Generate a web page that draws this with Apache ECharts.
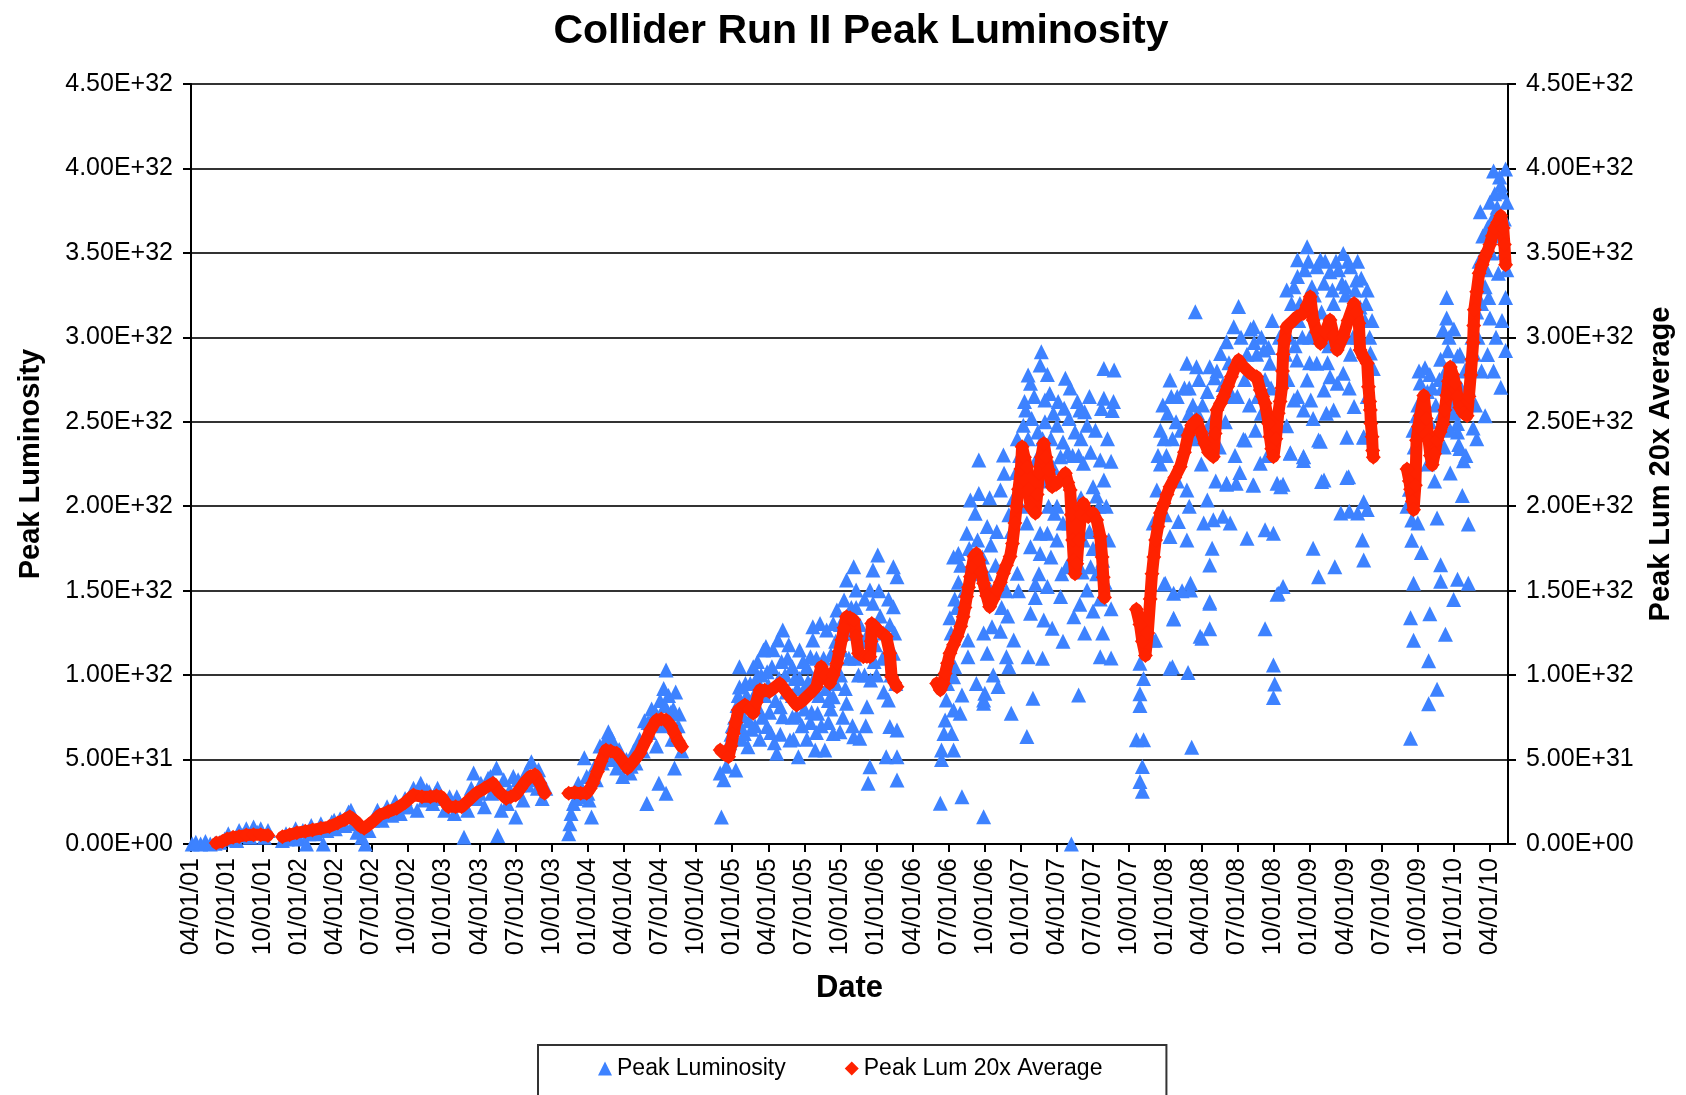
<!DOCTYPE html>
<html>
<head>
<meta charset="utf-8">
<script src="https://cdn.jsdelivr.net/npm/echarts@6/dist/echarts.min.js"></script>
<style>
html,body{margin:0;padding:0;background:#fff;}
#chart{width:1686px;height:1095px;}
</style>
</head>
<body>
<div id="chart"></div>
<script>
/* x = months since 04/01/01, y = luminosity in units of 1E30 */
var tickLabels = ['04/01/01','07/01/01','10/01/01','01/01/02','04/01/02','07/01/02','10/01/02',
    '01/01/03','04/01/03','07/01/03','10/01/03','01/01/04','04/01/04','07/01/04','10/01/04',
    '01/01/05','04/01/05','07/01/05','10/01/05','01/01/06','04/01/06','07/01/06','10/01/06',
    '01/01/07','04/01/07','07/01/07','10/01/07','01/01/08','04/01/08','07/01/08','10/01/08',
    '01/01/09','04/01/09','07/01/09','10/01/09','01/01/10','04/01/10'];

// Peak Luminosity (blue triangles)
var peak2001 = [[0.1,0],[0.4,1],[0.8,0],[1.2,1.5],[1.6,0],[2.0,0.5],[2.4,1],[2.8,3],[3.1,6],[3.4,3],[3.8,2],
    [4.0,8],[4.3,5],[4.6,9],[4.9,4],[5.2,10],[5.5,7],[5.8,9],[6.1,4],[6.4,8]];
var peak2002 = [[7.6,2],[7.9,6],[8.3,4],[8.7,9],[9.0,3],[9.3,8],[9.6,0],[10.0,11],[10.4,6],[10.8,12],[11.0,0],
    [11.3,8],[11.7,13],[12.0,9],[12.4,15],[12.8,11],[13.1,19],[13.5,12],[13.8,7],[14.2,4],[14.5,0],[14.8,8],
    [15.1,14],[15.5,20],[15.9,14],[16.3,22],[16.7,17],[17.0,25],[17.4,18],[17.8,27],[18.1,22],[18.5,33],
    [18.8,20],[19.1,36],[19.4,26],[19.8,31],[20.1,24],[20.5,33],[20.8,27],[21.1,20],[21.5,28],[21.9,18],
    [22.3,25],[22.7,4],[23.0,20],[23.3,33],[23.5,42],[23.8,27],[24.1,36],[24.4,22],[24.7,39],[25.0,30],
    [25.4,45],[25.5,5],[25.8,20],[26.0,38],[26.3,24],[26.8,40],[27.0,16],[27.3,35],[27.6,26],[27.9,43],
    [28.3,48.7],[28.6,38],[28.9,44],[29.2,27],[29.5,33],
    [8.0,3],[9.8,6],[11.9,14],[13.3,20],[16.0,18],[17.6,22],[19.6,32],[20.3,30],[21.7,24],[22.1,28],
    [24.0,30],[24.9,40],[26.5,32],[27.2,38],[28.0,35],[28.8,33],[29.0,40]];
var peak2004 = [[31.4,6],[31.5,12],[31.6,18],[31.8,24],[32.0,27],[32.2,36],[32.5,33],[32.7,51],[32.9,40],
    [33.1,26],[33.3,16],[33.5,45],[33.7,38],[34.0,58],[34.2,48],[34.5,62],[34.7,66.5],[34.9,50],[35.1,58],
    [35.4,45],[35.6,56],[35.9,40],[36.2,50],[36.5,42],[36.8,55],[37.0,48],[37.3,62],[37.6,55],[37.7,73],
    [37.9,24],[38.1,66],[38.3,80],[38.5,73],[38.7,58],[38.9,36],[39.0,85],[39.2,70],[39.3,92],[39.5,103],
    [39.5,30],[39.7,88],[39.9,78],[40.0,62],[40.2,45],[40.3,90],[40.5,70],[40.6,77],[40.8,55],
    [32.3,28],[33.0,30],[34.3,52],[35.0,62],[35.8,52],[36.6,46],[37.1,58],[38.0,72],[38.6,78],[39.4,82],
    [40.1,80],[40.4,62]];
var peak2005 = [[44.0,42],[44.1,16],[44.3,38],[44.5,46],[44.8,60],[45.0,70],[45.3,43.8],[45.5,88],[45.6,93],
    [45.6,105],[45.8,62],[46.0,65.5],[46.3,57.6],[46.5,95],[46.75,105],[46.9,70],[47.2,80],[47.4,100],
    [47.6,114.9],[47.8,117],[47.9,69.5],[48.1,78],[48.3,105],[48.5,60],[48.7,53.7],[48.8,120.8],[49.0,81.3],
    [49.2,126.7],[49.2,75.4],[49.4,100],[49.6,110],[49.8,61.6],[50.0,75],[50.2,98],[50.35,76],[50.5,51.7],
    [50.6,114.9],[50.8,70],[51.0,92],[51.2,105],[51.5,110.9],[51.5,72],[51.7,120.8],[51.7,128.7],[51.9,55.6],
    [52.1,77.4],[52.3,130.6],[52.5,100],[52.7,55.6],[52.85,126.7],[53.0,85],[53.2,112],[53.4,130.6],
    [53.4,65.5],[53.4,87.2],[53.7,138.5],[53.96,66.5],[54.1,115],[54.3,144.5],[54.5,156.3],[54.5,83.3],
    [54.8,125],[55.1,164.2],[55.1,63.5],[55.3,150.4],[55.3,140],[55.6,62.6],[55.8,120],[56.0,100],[56.2,81.3],
    [56.3,35.9],[56.45,150.4],[56.45,45.8],[56.5,97.1],[56.7,162.2],[56.7,142.5],[56.9,118],[57.1,171.1],
    [57.3,135],[57.5,110],[57.8,51.7],[57.98,85.3],[58.1,69.5],[58.1,130],[58.4,164.2],[58.4,140.5],
    [58.4,112.9],[58.7,158.3],[58.7,67.5],[58.7,51.7],[58.7,37.9],
    [45.2,75],[46.2,88],[47.0,98],[47.7,88],[48.0,94],[48.6,85],[49.5,90],[50.0,105],[50.4,92],[51.0,80],
    [51.8,98],[52.2,88],[52.6,110],[53.0,100],[53.6,120],[54.0,100],[54.7,110],[55.0,125],[55.5,100],
    [56.0,120],[57.0,100],[57.6,90],[58.2,100],[44.6,58],[45.9,76],[46.6,68],[47.3,62],[48.2,66],[49.0,65],
    [50.1,62],[51.2,62],[52.0,66],[53.0,72],[54.2,75],[55.0,70],[56.1,70],
    [44.9,65],[45.4,82],[45.7,70],[46.1,95],[46.4,73],[46.8,88],[47.1,108],[47.5,75],[47.9,102],[48.4,115],
    [48.9,98],[49.1,108],[49.7,118],[50.0,88],[50.6,98],[50.9,108],[51.3,96],[51.6,78],[52.0,110],[52.4,70],
    [52.8,92],[53.2,80],[53.6,95],[54.0,130],[54.4,92],[54.9,140],[55.2,110],[55.6,130],[56.0,145],[56.3,125],
    [56.8,108],[57.2,150],[57.6,125],[58.0,145],[58.5,125],[58.6,95]];
var peak2006 = [[62.3,24.1],[64.1,28],[65.9,16.2],[73.2,0],[62.4,50],[62.4,55.6],[63.4,55.6],[62.6,65.5],
    [63.25,65.5],[62.7,73.4],[63.95,77.4],[63.4,79.3],[64.1,88.2],[62.8,85.3],[65.3,95.1],[65.9,83.3],
    [65.9,85.3],[66.0,89.2],[67.1,93.2],[66.7,100.1],[68.2,77.4],[69.5,63.6],[70.0,86.3],[73.8,88.2],
    [75.6,110.9],[69.6,110.9],[66.2,112.9],[67.8,110.9],[68.0,105],[68.4,120.8],[64.6,120.8],[64.6,110.9],
    [65.9,125],[66.6,128.7],[67.3,126],[69.8,136.6],[70.9,132.6],[71.6,127.7],[70.2,146],[70.2,154],
    [71.2,152.4],[72.3,146.5],[73.4,134.6],[73.9,142],[74.5,150.4],[75.0,138],[75.6,145],[72.8,164.2],
    [74.8,164.2],[70.6,172],[68.7,160.3],[63.1,134],[63.5,145],[63.8,155],[64.0,165],[63.4,170],[63.4,99],
    [63.5,105],
    [70.7,291.5],[70.6,283.6],[69.6,277.7],[69.8,272.8],[72.7,275.7],[75.9,281.6],[75.9,263.9],[75.7,257.9],
    [71.4,266.8],[71.0,262.9],[73.9,256.9],[69.4,256.9],[68.7,240],[69.2,248],[69.9,252],[70.4,244],
    [71.0,250],[71.5,240],[72.0,248],[72.5,238],[73.0,252],[73.5,244],[74.0,240],[74.5,248],[65.5,227.3],
    [67.55,230.3],[74.2,225.4],[75.6,227.3],[75.9,215.5],[75.0,211.6],[64.8,203.7],[65.5,207.6],[66.4,205],
    [67.3,209.6],[67.6,219.5],[64.5,184],[65.2,195.8],[66.2,188],[71.2,184],[71.8,195.8],[72.5,190],
    [72.0,200],[72.3,229.3],[63.8,172],[69.8,176],[70.6,184],[74.5,200],[75.3,206],[66.5,177],[67.0,185],
    [68.0,195],[68.4,205],[74.2,180],[75.0,175],[75.8,168],[76.3,180],[76.5,226.6],[76.75,280.6],[76.7,262],
    [76.6,256.7],[76.5,139.3],[76.5,110.2],[74.1,161],[73.6,172],[71.5,170],[72.4,160],[72.9,165],[71.0,215],
    [70.0,215],[73.8,230],[72.9,232],[74.8,232],[71.7,223],
    [62.9,95],[63.2,125],[63.7,140],[64.3,150],[64.7,175],[65.0,160],[65.4,180],[65.8,170],[66.1,160],
    [66.5,150],[66.9,165],[67.4,140],[67.8,150],[68.2,185],[68.6,220],[68.9,230],[69.3,262],[69.6,240],
    [70.1,265],[70.3,228],[70.8,240],[71.2,278],[71.7,255],[72.1,262],[72.6,258],[73.1,270],[73.3,230],
    [73.7,262],[74.3,256],[74.7,265],[75.2,245],[75.5,200],[76.1,200],[76.2,240],[69.0,200],[69.5,190],
    [70.5,160],[71.3,200],[72.0,180],[73.0,190],[74.0,205],[74.7,185],[75.3,160],[76.0,155],[67.9,135],
    [68.8,150],[70.8,110],[72.5,120],[74.3,125],[75.8,125]];
var peak2008 = [[78.9,37],[79.1,45.9],[79.1,31.2],[78.6,61.8],[79.2,61.8],[78.9,82],[78.9,89],[79.2,98],
    [78.9,107],[80.0,120.7],[83.2,57.3],[81.6,104.9],[82.9,101.5],[81.7,133.2],[83.9,123],[84.7,127.5],
    [84.7,143.4],[89.3,127.5],[90.0,106],[90.1,94.7],[90.0,86.7],[90.3,147.9],[90.8,152.4],[81.4,104],
    [84.05,121.8],[81.7,133.6],[84.7,142.5],[81.0,154.4],[81.7,148.4],[82.4,150],[83.1,150.4],[83.1,154.4],
    [90.4,148.4],[84.7,165.2],[84.9,175.1],[82.8,180],[81.4,182],[87.8,181],[89.3,186],[90.0,184],
    [93.3,175.1],[93.75,158.3],[95.1,164.2],[97.4,180],[97.5,168.2],[95.6,196],[96.3,197],[97.0,196],
    [97.8,198],[97.5,202.7],[84.2,190],[85.0,192],[85.8,194],[86.4,190],[84.5,203.7],[86.1,213.6],
    [86.9,213.6],[88.35,212.6],[90.6,211.6],[94.2,215.6],[96.25,217.5],[92.5,227],[88.9,225.4],[80.3,209.6],
    [82.8,209.6],[82.1,190.9],[80.2,120.8],[80.9,154],
    [92.8,353.7],[95.8,349.7],[92.0,336],[92.0,346],[93.6,341.8],[94.7,338.9],[96.4,341.8],[96.9,333.9],
    [97.8,328],[91.1,328],[94.2,332],[83.5,315.2],[87.1,318.2],[88.35,306.3],[86.1,297.4],[86.7,306.3],
    [81.4,274.7],[82.8,284.6],[83.6,282.6],[84.7,282.6],[85.6,290.5],[89.2,292.5],[89.7,284.6],[91.95,286.6],
    [93.6,284.6],[92.8,274.7],[94.2,268.8],[95.3,272.8],[95.8,278.7],[94.7,276.7],[91.7,262.9],[93.1,262.9],
    [92.5,257],[95.0,257],[96.7,259],[93.3,252],[87.65,239.2],[93.75,239.2],[91.4,231.3],[92.5,229.3],
    [97.5,241.2],[80.9,240],[81.2,255],[81.5,265],[81.9,250],[80.6,245],[83.0,270],[83.8,275],[84.5,268],
    [85.1,276],[87.8,290],[88.4,297],[89.0,300],[89.6,294],[88.0,260],[88.7,265],[89.0,255],[87.0,265],
    [86.0,250],[85.5,235],[84.0,225],[82.0,215],[83.4,240],[80.6,225],[93.0,300],[94.0,315],[95.0,320],
    [96.0,325],[97.2,318],[98.0,300],[98.06,290.7],[98.3,281.6],[96.1,240.8],[97.5,240.8],[91.1,247.6],
    [91.4,231.7],[92.5,229.5],[93.9,238.5],[87.5,239.7],[86.1,213],[87.2,220],[88.3,212.5],[90.3,213.6],
    [90.8,213],[94.0,214.7],[96.1,217],[92.4,300],[94.6,295],[96.6,300],[97.6,310],[91.5,320],[92.6,340],
    [93.2,330],[95.4,340],[96.0,330],[97.0,345],[93.9,346],[91.8,295],[89.9,310],
    [80.0,190],[80.4,230],[80.8,260],[81.1,230],[81.6,240],[82.0,265],[82.3,245],[82.6,270],[83.0,255],
    [83.3,260],[83.7,255],[84.1,260],[84.4,245],[84.8,250],[85.3,280],[85.8,272],[86.3,285],[86.6,265],
    [87.3,300],[87.6,275],[88.1,305],[88.6,290],[89.3,275],[89.8,270],[90.5,300],[91.0,290],[91.3,300],
    [91.7,330],[92.2,320],[92.9,345],[93.4,325],[94.3,345],[94.9,328],[95.2,345],[95.7,332],[96.2,345],
    [96.8,328],[97.3,335],[97.7,320],[98.2,310],[92.1,310],[93.0,285],[93.8,300],[94.5,285],[95.5,300],
    [96.4,290],[97.0,300],[97.8,265],[91.2,275],[92.0,265],[94.4,255],[96.3,270],[88.5,245],[89.5,230],
    [86.8,230],[85.2,215],[83.0,200],[81.0,195]];
var peak2010 = [[101.4,62.6],[102.9,83],[103.6,91.6],[102.9,108.5],[101.65,120.6],[101.4,133.9],[103.0,136.3],
    [104.3,124.2],[104.98,144.8],[101.65,154.4],[103.9,155.6],[105.3,156.8],[106.2,154.4],[103.9,165.3],
    [102.3,172.6],[101.5,179.8],[101.5,191.9],[103.6,193.1],[106.2,189.5],[105.7,206.4],[104.7,219.7],
    [105.8,226.9],[105.4,236.6],[107.6,253.5],[108.9,270.4],[108.3,280],[109.3,292.2],[107.8,289.8],
    [108.0,311.5],[107.9,323.6],[109.3,323.6],[108.7,338],[109.1,350.2],[107.2,374.4],[108.3,398.5],
    [109.3,399.7],[108.6,377],[109.0,386],[109.4,380],[104.4,323.6],[104.4,311.5],[104.1,304.3],[103.9,287],
    [104.5,292],[105.3,289],[102.2,273],[102.6,282],[103.0,278],[101.9,253.5],[105.3,244],[105.3,249],
    [106.6,246.3],[105.5,234.2],[101.7,235],[102.0,260],[102.5,245],[103.0,250],[103.5,260],[104.0,270],
    [104.8,260],[105.6,270],[106.2,270],[106.5,300],[106.9,315],[107.1,345],[107.4,360],[107.6,330],
    [107.8,365],[108.1,350],[108.4,385],[108.8,395],[106.8,260],[107.3,280],[104.7,245],[102.8,225],
    [103.4,215],[101.3,210],[101.8,225],[104.2,235],[106.0,230],[106.9,240],[108.5,300],[109.0,310],
    [101.1,200],[102.0,190],
    [101.6,245],[102.1,280],[102.4,262],[102.8,268],[103.2,270],[103.8,275],[104.3,280],[104.6,300],
    [105.0,305],[105.5,290],[105.9,280],[106.3,285],[106.7,290],[107.0,300],[107.3,320],[107.7,340],
    [108.0,380],[108.2,370],[108.6,360],[108.9,390],[109.2,370],[109.4,340],[105.0,255],[104.0,255],[103.2,240]];

// Peak Lum 20x Average (red diamonds), one array per running period
var avgSeg1 = [[2.1,0.6],[2.6,1.5],[3.0,3],[3.5,4],[4.0,4.5],[4.6,5.3],[5.2,5.5],[5.8,5.5],[6.4,5.0]];
var avgSeg2 = [[7.6,4.3],[8.2,5.5],[8.8,6.7],[9.5,7.5],[10.1,8.3],[10.8,9.3],[11.5,10.3],[12.2,12.5],
    [12.8,14.5],[13.2,16.2],[13.7,13.5],[14.1,10.5],[14.4,9.3],[14.8,11.5],[15.3,14.5],[15.7,17.2],
    [16.4,19.2],[17.1,21.1],[17.8,24.5],[18.5,29],[19.2,28],[19.9,28],[20.4,28.5],[20.8,28],[21.1,25],
    [21.4,22],[22.0,22],[22.5,22],[23.1,26],[23.7,30],[24.4,33],[25.1,36],[25.6,31],[26.2,27],[26.6,28],
    [27.0,29],[27.4,33],[27.8,37],[28.2,40],[28.6,41],[29.0,36],[29.4,30]];
var avgSeg3 = [[31.4,30],[31.9,30.5],[32.4,30],[32.9,30],[33.2,33],[33.4,36],[33.8,43],[34.1,49],[34.5,55.6],
    [34.9,55],[35.4,53.7],[35.8,50],[36.3,44.8],[36.8,49],[37.3,53.7],[37.8,61],[38.2,67.5],[38.7,73.4],
    [39.1,74],[39.5,73.4],[39.9,70],[40.2,65.5],[40.5,61],[40.8,57.6]];
var avgSeg4 = [[44.0,55.6],[44.4,53],[44.7,51.7],[44.9,58],[45.1,65.5],[45.3,72],[45.5,79.3],[46.05,82.3],
    [46.4,80],[46.75,77.4],[47.0,84],[47.3,91.2],[47.7,91],[48.1,90.2],[48.5,92.5],[48.96,95.1],[49.4,91],
    [49.8,87.2],[50.35,82.3],[50.8,84.5],[51.2,87.2],[51.6,90],[52.0,93.1],[52.4,105],[52.75,100],
    [53.1,95.1],[53.4,100],[53.7,107],[53.9,114],[54.1,120.8],[54.3,128],[54.5,134.6],[54.8,134],
    [55.1,132.6],[55.3,123],[55.5,112.9],[55.9,110.9],[56.2,111],[56.45,110.9],[56.55,120],[56.6,130.6],
    [56.9,128.5],[57.1,126.7],[57.5,124.5],[57.8,122.8],[58.1,112.9],[58.25,99.1],[58.5,95.5],[58.7,93.1]];
var avgSeg5 = [[62.0,95.1],[62.3,91.2],[62.55,95],[62.7,101],[62.9,107],[63.1,112.9],[63.4,118],[63.7,122.8],
    [64.0,129],[64.2,134.6],[64.35,140],[64.5,146.5],[64.65,152],[64.8,158.3],[64.95,164],[65.1,170.2],
    [65.3,172],[65.5,168],[65.7,161],[65.9,154.4],[66.15,147],[66.4,140.5],[66.7,145],[67.0,150.4],
    [67.3,155],[67.55,160.3],[67.8,165],[68.1,170.2],[68.3,178],[68.5,190],[68.65,200],[68.8,210],
    [69.0,222],[69.1,235.2],[69.3,229],[69.5,223.4],[69.65,210],[69.8,199.7],[70.2,195.8],[70.35,207],
    [70.5,219.5],[70.7,229],[70.9,237.2],[71.1,229],[71.3,221.4],[71.6,211.6],[71.95,213],[72.3,215.5],
    [72.7,219.5],[72.9,214],[73.1,209.6],[73.2,195],[73.3,180],[73.4,168],[73.5,160],[73.65,166],
    [73.8,180],[74.0,195],[74.2,201.7],[74.6,193.8],[75.0,196],[75.3,191.8],[75.6,182],[75.75,170],
    [75.85,158],[75.95,146]];
var avgSeg6 = [[78.6,139],[78.9,130],[79.1,120],[79.35,111.6],[79.55,125],[79.75,145],[79.9,160],[80.05,170],
    [80.2,180],[80.4,188],[80.6,196],[80.9,201.7],[81.15,207],[81.4,211.6],[81.8,217],[82.25,223.4],
    [82.6,232],[82.9,242],[83.2,248],[83.6,251],[83.95,244],[84.3,237.2],[84.6,232],[85.0,229.3],
    [85.15,243],[85.3,257],[85.6,261],[85.85,264.9],[86.2,271],[86.5,276.7],[86.8,282],[87.1,286.6],
    [87.45,283],[87.8,280.6],[88.2,278],[88.6,276.7],[88.9,268.8],[89.1,265],[89.3,260.9],[89.6,249],
    [89.7,241.2],[89.85,234],[90.0,229.3],[90.2,240],[90.4,255],[90.55,262],[90.7,270],[90.75,280],
    [90.8,290],[90.9,298],[91.1,306.3],[91.5,309],[91.95,312.2],[92.5,314.2],[92.8,319],[93.06,324.1],
    [93.3,310.3],[93.6,303],[93.9,296.4],[94.3,303],[94.7,310.3],[95.0,301],[95.3,292.5],[95.8,300.4],
    [96.2,310],[96.7,320.1],[96.9,315],[97.1,308.3],[97.2,292.5],[97.5,288],[97.8,284.6],[97.9,270.8],
    [98.0,262],[98.05,257],[98.1,249],[98.2,241.2],[98.25,233],[98.3,229]];
var avgSeg7 = [[101.1,222],[101.3,215],[101.4,210],[101.55,203],[101.65,197.9],[101.8,212.4],[101.9,239],
    [102.05,247],[102.2,253.5],[102.5,265.6],[102.7,252],[102.9,239],[103.05,230],[103.2,224.5],[103.4,231],
    [103.6,239],[103.85,244],[104.1,248.7],[104.25,257],[104.4,265.6],[104.55,274],[104.7,282.5],[104.9,278],
    [105.1,272.8],[105.3,265],[105.5,258.4],[105.8,255],[106.1,253.5],[106.25,265],[106.4,277.7],[106.5,287],
    [106.6,297],[106.65,307],[106.7,316.4],[106.9,327],[107.1,338],[107.35,343],[107.6,347.8],[107.8,351],
    [108.0,355],[108.2,360],[108.4,364.7],[108.65,368],[108.9,372],[109.1,364.7],[109.2,355],[109.3,343]];

var peakName = 'Peak Luminosity';
var avgName = 'Peak Lum 20x Average';
var FONT = "'Liberation Sans', Arial, sans-serif";

/*把1E30为单位的数值显示成 4.50E+32 的样子*/
var sciLabel = function (v) {
    if (v === 0) return '0.00E+00';
    var e = Math.floor(Math.log10(v));
    var mant = v / Math.pow(10, e);
    var exp = e + 30;
    return mant.toFixed(2) + 'E+' + (exp < 10 ? '0' : '') + exp;
};

var chart = echarts.init(document.getElementById('chart'));

var yAxisBase = function (pos) {
    return {
        type: 'value',
        position: pos,
        min: 0,
        max: 450,
        interval: 50,
        axisLine: {show: true, lineStyle: {color: '#000', width: 2}},
        axisTick: {show: true, length: 8, lineStyle: {color: '#000', width: 2}},
        axisLabel: {color: '#000', fontSize: 25, fontFamily: FONT, margin: 18, formatter: sciLabel},
        nameLocation: 'middle',
        nameRotate: 90,
        nameTextStyle: {color: '#000', fontSize: 29, fontWeight: 'bold', fontFamily: FONT}
    };
};

var leftAxis = yAxisBase('left');
leftAxis.name = 'Peak Luminosity';
leftAxis.nameGap = 146;
leftAxis.splitLine = {show: true, lineStyle: {color: '#333', width: 2}};

var rightAxis = yAxisBase('right');
rightAxis.name = 'Peak Lum 20x Average';
rightAxis.nameGap = 138;
rightAxis.splitLine = {show: false};

var avgSegs = [avgSeg1, avgSeg2, avgSeg3, avgSeg4, avgSeg5, avgSeg6, avgSeg7];
var series = [{
    name: peakName,
    type: 'scatter',
    symbol: 'triangle',
    symbolSize: 15,
    itemStyle: {color: '#3d82ff', opacity: 1},
    data: peak2001.concat(peak2002, peak2004, peak2005, peak2006, peak2008, peak2010)
}];
for (var i = 0; i < avgSegs.length; i++) {
    series.push({
        name: avgName,
        type: 'line',
        symbol: 'diamond',
        symbolSize: 15,
        showAllSymbol: true,
        itemStyle: {color: '#ff2200'},
        lineStyle: {color: '#ff2200', width: 12, join: 'round', cap: 'round'},
        data: avgSegs[i]
    });
}

var option = {
    animation: false,
    backgroundColor: '#fff',
    title: {
        text: 'Collider Run II Peak Luminosity',
        left: 856,
        top: 6,
        textAlign: 'center',
        textStyle: {color: '#000', fontSize: 41, fontWeight: 'bold', fontFamily: FONT}
    },
    legend: {
        left: 538,
        top: 1045,
        padding: [12, 64, 20, 60],
        itemGap: 59,
        itemWidth: 14,
        itemHeight: 14,
        borderColor: '#333',
        borderWidth: 2,
        textStyle: {color: '#000', fontSize: 23, fontFamily: FONT},
        data: [{name: peakName, icon: 'triangle'}, {name: avgName, icon: 'diamond'}]
    },
    grid: {left: 191, right: 178, top: 84, bottom: 251, containLabel: false},
    xAxis: {
        type: 'value',
        min: 0,
        max: 109.5,
        interval: 3,
        name: 'Date',
        nameLocation: 'middle',
        nameGap: 129,
        nameTextStyle: {color: '#000', fontSize: 31, fontWeight: 'bold', fontFamily: FONT},
        axisLine: {show: true, onZero: false, lineStyle: {color: '#000', width: 2}},
        axisTick: {show: true, length: 8, lineStyle: {color: '#000', width: 2}},
        splitLine: {show: false},
        axisLabel: {
            color: '#000', fontSize: 25, fontFamily: FONT, rotate: 90, margin: 14,
            showMaxLabel: false,
            formatter: function (v) {
                var k = Math.round(v / 3);
                if (Math.abs(v - k * 3) > 1e-6) return '';
                return tickLabels[k] || '';
            }
        }
    },
    yAxis: [leftAxis, rightAxis],
    series: series
};
chart.setOption(option);
</script>
</body>
</html>
